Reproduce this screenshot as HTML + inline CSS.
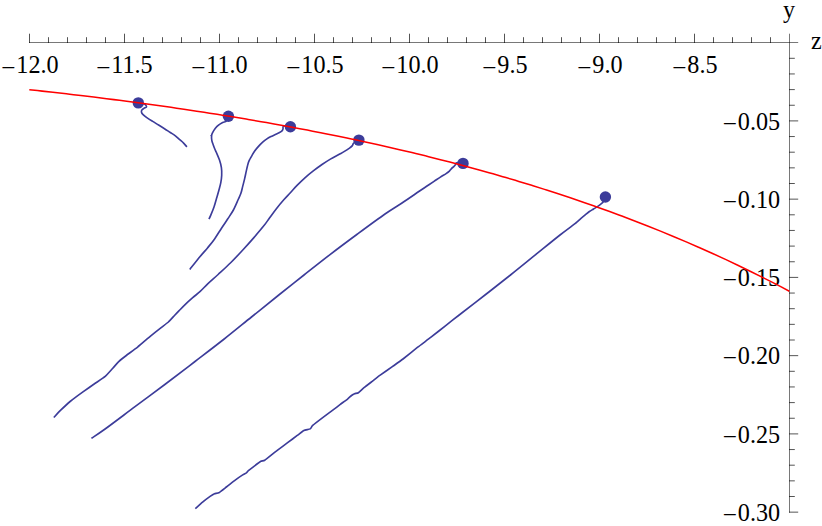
<!DOCTYPE html>
<html><head><meta charset="utf-8"><style>
html,body{margin:0;padding:0;background:#fff;overflow:hidden}
svg{display:block}
text{font-family:"Liberation Serif",serif;font-size:24.2px;fill:#000}
</style></head><body>
<svg width="822" height="526" viewBox="0 0 822 526">
<path d="M29 42.5 H798.2 M789.5 33.7 V512.65" stroke="#000" stroke-opacity="0.53" stroke-width="1" fill="none"/>
<path d="M29.50 43 V33.7 M48.50 43 V37.2 M67.50 43 V37.2 M86.50 43 V37.2 M105.50 43 V37.2 M124.50 43 V33.7 M143.50 43 V37.2 M162.50 43 V37.2 M181.50 43 V37.2 M200.50 43 V37.2 M219.50 43 V33.7 M238.50 43 V37.2 M257.50 43 V37.2 M276.50 43 V37.2 M295.50 43 V37.2 M314.50 43 V33.7 M333.50 43 V37.2 M352.50 43 V37.2 M371.50 43 V37.2 M390.50 43 V37.2 M409.50 43 V33.7 M428.50 43 V37.2 M447.50 43 V37.2 M466.50 43 V37.2 M485.50 43 V37.2 M504.50 43 V33.7 M523.50 43 V37.2 M542.50 43 V37.2 M561.50 43 V37.2 M580.50 43 V37.2 M599.50 43 V33.7 M618.50 43 V37.2 M637.50 43 V37.2 M656.50 43 V37.2 M675.50 43 V37.2 M694.50 43 V33.7 M713.50 43 V37.2 M732.50 43 V37.2 M751.50 43 V37.2 M770.50 43 V37.2 M789 58.30 H794.8 M789 73.95 H794.8 M789 89.60 H794.8 M789 105.25 H794.8 M789 120.90 H798.2 M789 136.55 H794.8 M789 152.20 H794.8 M789 167.85 H794.8 M789 183.50 H794.8 M789 199.15 H798.2 M789 214.80 H794.8 M789 230.45 H794.8 M789 246.10 H794.8 M789 261.75 H794.8 M789 277.40 H798.2 M789 293.05 H794.8 M789 308.70 H794.8 M789 324.35 H794.8 M789 340.00 H794.8 M789 355.65 H798.2 M789 371.30 H794.8 M789 386.95 H794.8 M789 402.60 H794.8 M789 418.25 H794.8 M789 433.90 H798.2 M789 449.55 H794.8 M789 465.20 H794.8 M789 480.85 H794.8 M789 496.50 H794.8 M789 512.15 H798.2" stroke="#000" stroke-opacity="0.67" stroke-width="1" fill="none"/>
<text transform="translate(1.16 75.50) scale(1.05 1.055)">−</text>
<text transform="translate(16.29 73.30) scale(1 1.055)">12.0</text>
<text transform="translate(96.16 75.50) scale(1.05 1.055)">−</text>
<text transform="translate(111.29 73.30) scale(1 1.055)">11.5</text>
<text transform="translate(191.16 75.50) scale(1.05 1.055)">−</text>
<text transform="translate(206.29 73.30) scale(1 1.055)">11.0</text>
<text transform="translate(286.16 75.50) scale(1.05 1.055)">−</text>
<text transform="translate(301.29 73.30) scale(1 1.055)">10.5</text>
<text transform="translate(381.16 75.50) scale(1.05 1.055)">−</text>
<text transform="translate(396.29 73.30) scale(1 1.055)">10.0</text>
<text transform="translate(482.21 75.50) scale(1.05 1.055)">−</text>
<text transform="translate(497.34 73.30) scale(1 1.055)">9.5</text>
<text transform="translate(577.21 75.50) scale(1.05 1.055)">−</text>
<text transform="translate(592.34 73.30) scale(1 1.055)">9.0</text>
<text transform="translate(672.21 75.50) scale(1.05 1.055)">−</text>
<text transform="translate(687.34 73.30) scale(1 1.055)">8.5</text>
<text transform="translate(722.72 131.70) scale(1.05 1.055)">−</text>
<text transform="translate(737.85 129.50) scale(1 1.055)">0.05</text>
<text transform="translate(722.72 209.95) scale(1.05 1.055)">−</text>
<text transform="translate(737.85 207.75) scale(1 1.055)">0.10</text>
<text transform="translate(722.72 288.20) scale(1.05 1.055)">−</text>
<text transform="translate(737.85 286.00) scale(1 1.055)">0.15</text>
<text transform="translate(722.72 366.45) scale(1.05 1.055)">−</text>
<text transform="translate(737.85 364.25) scale(1 1.055)">0.20</text>
<text transform="translate(722.72 444.70) scale(1.05 1.055)">−</text>
<text transform="translate(737.85 442.50) scale(1 1.055)">0.25</text>
<text transform="translate(722.72 522.95) scale(1.05 1.055)">−</text>
<text transform="translate(737.85 520.75) scale(1 1.055)">0.30</text>
<text transform="translate(789 17.5) scale(1 1.055)" text-anchor="middle">y</text>
<text transform="translate(811.1 48.8) scale(1 1.055)">z</text>
<g fill="none" stroke="#3c3c9a" stroke-width="1.65" stroke-linejoin="round" stroke-linecap="butt">
<path d="M138.30 102.80 C139.23 102.97 142.62 103.37 143.90 103.80 C145.18 104.23 145.58 104.85 146.00 105.40 C146.42 105.95 146.75 106.60 146.40 107.10 C146.05 107.60 144.67 107.90 143.90 108.40 C143.13 108.90 142.20 109.47 141.80 110.10 C141.40 110.73 141.28 111.43 141.50 112.20 C141.72 112.97 142.22 113.80 143.10 114.70 C143.98 115.60 145.20 116.48 146.80 117.60 C148.40 118.72 150.73 120.17 152.70 121.40 C154.67 122.63 156.63 123.78 158.60 125.00 C160.57 126.22 162.55 127.45 164.50 128.70 C166.45 129.95 168.48 131.32 170.30 132.50 C172.12 133.68 173.88 134.65 175.40 135.80 C176.92 136.95 178.03 138.18 179.40 139.40 C180.77 140.62 182.35 141.85 183.60 143.10 C184.85 144.35 186.35 146.27 186.90 146.90"/>
<path d="M228.40 116.00 C228.08 116.83 227.45 119.90 226.50 121.00 C225.55 122.10 224.03 121.90 222.70 122.60 C221.37 123.30 219.75 124.22 218.50 125.20 C217.25 126.18 216.18 127.25 215.20 128.50 C214.22 129.75 213.20 131.52 212.60 132.70 C212.00 133.88 211.73 134.33 211.60 135.60 C211.47 136.87 211.55 138.82 211.80 140.30 C212.05 141.78 212.62 143.10 213.10 144.50 C213.58 145.90 214.15 147.37 214.70 148.70 C215.25 150.03 215.60 150.60 216.40 152.50 C217.20 154.40 218.67 157.58 219.50 160.10 C220.33 162.62 221.03 165.10 221.40 167.60 C221.77 170.10 221.80 172.58 221.70 175.10 C221.60 177.62 221.27 180.18 220.80 182.70 C220.33 185.22 219.62 187.57 218.90 190.20 C218.18 192.83 217.32 195.70 216.50 198.50 C215.68 201.30 214.95 204.23 214.00 207.00 C213.05 209.77 211.65 213.07 210.80 215.10 C209.95 217.13 209.22 218.52 208.90 219.20"/>
<path d="M290.40 126.60 C289.28 126.48 284.93 125.53 283.70 125.90 C282.47 126.27 283.28 127.97 283.00 128.80 C282.72 129.63 282.58 130.27 282.00 130.90 C281.42 131.53 280.62 132.00 279.50 132.60 C278.38 133.20 276.70 133.85 275.30 134.50 C273.90 135.15 272.50 135.77 271.10 136.50 C269.70 137.23 268.30 137.95 266.90 138.90 C265.50 139.85 264.10 140.95 262.70 142.20 C261.30 143.45 259.83 144.93 258.50 146.40 C257.17 147.87 255.82 149.43 254.70 151.00 C253.58 152.57 252.58 154.47 251.80 155.80 C251.02 157.13 250.57 157.87 250.00 159.00 C249.43 160.13 248.98 160.75 248.40 162.60 C247.82 164.45 247.13 167.38 246.50 170.10 C245.87 172.82 245.23 176.18 244.60 178.90 C243.97 181.62 243.32 184.00 242.70 186.40 C242.08 188.80 241.65 191.12 240.90 193.30 C240.15 195.48 239.45 196.72 238.20 199.50 C236.95 202.28 235.13 206.78 233.40 210.00 C231.67 213.22 229.78 215.77 227.80 218.80 C225.82 221.83 223.70 224.85 221.50 228.20 C219.30 231.55 216.90 235.65 214.60 238.90 C212.30 242.15 210.12 244.77 207.70 247.70 C205.28 250.63 203.08 252.88 200.10 256.50 C197.12 260.12 191.52 267.25 189.80 269.40"/>
<path d="M358.90 139.90 C358.03 140.43 354.78 142.15 353.70 143.10 C352.62 144.05 353.10 144.77 352.40 145.60 C351.70 146.43 350.97 147.05 349.50 148.10 C348.03 149.15 345.38 150.83 343.60 151.90 C341.82 152.97 341.00 153.30 338.80 154.50 C336.60 155.70 333.20 157.43 330.40 159.10 C327.60 160.77 324.80 162.57 322.00 164.50 C319.20 166.43 316.40 168.52 313.60 170.70 C310.80 172.88 308.00 175.10 305.20 177.60 C302.40 180.10 299.32 183.13 296.80 185.70 C294.28 188.27 292.27 190.65 290.10 193.00 C287.93 195.35 286.12 197.15 283.80 199.80 C281.48 202.45 278.62 205.82 276.20 208.90 C273.78 211.98 271.33 215.52 269.30 218.30 C267.27 221.08 266.57 222.38 264.00 225.60 C261.43 228.82 257.28 233.70 253.90 237.60 C250.52 241.50 247.53 244.85 243.70 249.00 C239.87 253.15 235.17 258.25 230.90 262.50 C226.63 266.75 221.97 270.93 218.10 274.50 C214.23 278.07 210.68 281.08 207.70 283.90 C204.72 286.72 202.70 289.10 200.20 291.40 C197.70 293.70 195.22 295.50 192.70 297.70 C190.18 299.90 187.40 302.40 185.10 304.60 C182.80 306.80 180.67 309.08 178.90 310.90 C177.13 312.72 176.25 313.65 174.50 315.50 C173.73 316.31 169.45 321.06 168.40 322.00 C167.35 322.94 161.53 327.24 160.20 328.30 C158.87 329.36 151.86 335.02 150.20 336.40 C148.54 337.78 139.35 345.70 137.60 347.10 C135.85 348.50 127.66 354.46 126.30 355.50 C124.94 356.54 119.99 360.37 119.00 361.30 C118.01 362.23 113.81 367.09 112.80 368.20 C111.79 369.31 106.49 375.29 105.20 376.40 C103.91 377.51 96.86 382.15 95.20 383.30 C93.54 384.45 84.44 390.77 82.60 392.10 C80.76 393.43 71.71 400.17 70.10 401.50 C68.49 402.83 61.90 409.03 60.70 410.20 C59.50 411.37 54.31 416.96 53.80 417.50"/>
<path d="M463.00 163.40 C462.25 163.27 459.62 162.68 458.50 162.60 C457.38 162.52 456.82 162.53 456.30 162.90 C455.78 163.27 455.82 164.18 455.40 164.80 C454.98 165.42 454.38 166.03 453.80 166.60 C453.22 167.17 452.63 167.45 451.90 168.20 C451.17 168.95 450.37 170.20 449.40 171.10 C448.43 172.00 447.60 172.60 446.10 173.60 C444.60 174.60 442.42 175.80 440.40 177.10 C438.38 178.40 436.30 179.87 434.00 181.40 C431.70 182.93 429.07 184.65 426.60 186.30 C424.13 187.95 423.30 188.52 419.20 191.30 C415.10 194.08 407.70 199.22 402.00 203.00 C396.30 206.78 392.42 208.83 385.00 214.00 C377.58 219.17 366.67 227.23 357.50 234.00 C348.33 240.77 338.92 247.77 330.00 254.60 C321.08 261.43 312.53 268.27 304.00 275.00 C295.47 281.73 287.55 288.00 278.80 295.00 C270.05 302.00 260.60 309.67 251.50 317.00 C242.40 324.33 233.62 331.58 224.20 339.00 C214.78 346.42 204.78 354.00 195.00 361.50 C185.22 369.00 175.50 376.47 165.50 384.00 C155.50 391.53 145.07 399.20 135.00 406.70 C124.93 414.20 112.37 423.73 105.10 429.00 C97.83 434.27 93.68 436.75 91.40 438.30"/>
<path d="M605.50 196.80 C605.12 197.63 603.93 200.62 603.20 201.80 C602.47 202.98 602.00 203.13 601.10 203.90 C600.20 204.67 599.05 205.55 597.80 206.40 C596.55 207.25 595.00 208.15 593.60 209.00 C592.20 209.85 590.80 210.52 589.40 211.50 C588.00 212.48 586.60 213.75 585.20 214.90 C583.80 216.05 582.40 217.20 581.00 218.40 C579.60 219.60 577.92 221.13 576.80 222.10 C575.68 223.07 577.10 222.05 574.30 224.20 C571.50 226.35 566.55 229.83 560.00 235.00 C553.45 240.17 543.25 248.53 535.00 255.20 C526.75 261.87 518.83 268.37 510.50 275.00 C502.17 281.63 493.55 288.33 485.00 295.00 C476.45 301.67 465.80 309.87 459.20 315.00 C456.30 317.26 447.47 324.17 445.40 325.80 C443.33 327.43 433.03 335.63 431.00 337.20 C428.97 338.77 419.75 345.60 417.70 347.20 C415.65 348.80 404.83 357.59 403.00 359.00 C401.17 360.41 394.37 365.21 392.70 366.40 C391.03 367.59 381.66 374.14 380.20 375.20 C378.74 376.26 373.99 379.98 372.80 380.90 C371.61 381.82 365.06 386.83 364.00 387.70 C362.94 388.57 359.09 392.26 358.40 392.70 C357.71 393.14 355.11 393.49 354.60 393.70 C354.09 393.91 352.00 395.13 351.50 395.50 C351.00 395.87 348.62 398.15 347.80 398.80 C346.98 399.45 341.40 403.57 340.30 404.40 C339.20 405.23 334.09 409.13 332.80 410.10 C331.51 411.07 324.17 416.48 322.70 417.60 C321.23 418.72 313.62 424.57 312.70 425.40 C311.78 426.23 310.85 428.53 310.20 428.90 C309.55 429.27 304.82 429.94 303.90 430.40 C302.98 430.86 298.80 434.30 297.60 435.20 C296.40 436.10 289.07 441.60 287.60 442.70 C286.13 443.80 278.50 449.53 277.60 450.20 C276.70 450.87 276.25 451.16 275.30 451.90 C274.35 452.64 265.76 459.61 264.70 460.30 C263.64 460.99 261.68 460.86 260.90 461.30 C260.12 461.74 254.92 465.61 254.00 466.30 C253.08 466.99 248.95 470.22 248.40 470.70 C247.85 471.18 246.92 472.59 246.50 472.90 C246.08 473.21 243.53 474.37 242.70 474.90 C241.87 475.43 236.40 479.21 235.20 480.10 C234.00 480.99 227.60 486.08 226.40 487.00 C225.20 487.92 219.77 492.21 218.90 492.70 C218.03 493.19 215.15 493.43 214.50 493.70 C213.85 493.97 210.97 495.78 210.10 496.40 C209.23 497.02 203.69 501.21 202.60 502.10 C201.51 502.99 195.84 508.12 195.30 508.60"/>
<path d="M212 135.6 H210.3" stroke-width="0.8"/>
</g>
<g fill="#3c3c9a">
<circle cx="138.3" cy="102.9" r="5.7"/>
<circle cx="228.4" cy="116.2" r="5.7"/>
<circle cx="290.4" cy="126.8" r="5.7"/>
<circle cx="358.9" cy="140.1" r="5.7"/>
<circle cx="463.0" cy="163.4" r="5.7"/>
<circle cx="605.4" cy="197.0" r="5.7"/>
</g>
<path d="M29.30 89.72 C31.45 89.95 37.89 90.64 42.18 91.11 C46.48 91.59 50.77 92.06 55.06 92.55 C59.36 93.03 63.65 93.52 67.94 94.02 C72.24 94.51 76.53 95.02 80.83 95.53 C85.12 96.04 89.41 96.56 93.71 97.08 C98.00 97.61 102.29 98.14 106.59 98.68 C110.88 99.22 115.18 99.76 119.47 100.32 C123.76 100.87 128.06 101.44 132.35 102.01 C136.64 102.57 140.94 103.15 145.23 103.74 C149.53 104.32 153.82 104.92 158.11 105.52 C162.41 106.12 166.70 106.73 170.99 107.35 C175.29 107.97 179.58 108.59 183.88 109.23 C188.17 109.86 192.46 110.51 196.76 111.16 C201.05 111.81 205.35 112.48 209.64 113.15 C213.93 113.82 218.23 114.50 222.52 115.19 C226.81 115.88 231.11 116.58 235.40 117.28 C239.70 117.99 243.99 118.71 248.28 119.44 C252.58 120.17 256.87 120.91 261.16 121.65 C265.46 122.40 269.75 123.16 274.05 123.93 C278.34 124.70 282.63 125.48 286.93 126.27 C291.22 127.06 295.51 127.86 299.81 128.67 C304.10 129.48 308.40 130.31 312.69 131.14 C316.98 131.98 321.28 132.82 325.57 133.68 C329.86 134.54 334.16 135.41 338.45 136.29 C342.75 137.17 347.04 138.06 351.33 138.97 C355.63 139.87 359.92 140.79 364.22 141.72 C368.51 142.65 372.80 143.59 377.10 144.55 C381.39 145.51 385.68 146.48 389.98 147.46 C394.27 148.44 398.57 149.44 402.86 150.45 C407.15 151.46 411.45 152.48 415.74 153.52 C420.03 154.55 424.33 155.60 428.62 156.67 C432.92 157.74 437.21 158.83 441.50 159.92 C445.80 161.02 450.09 162.14 454.38 163.27 C458.68 164.39 462.97 165.54 467.27 166.70 C471.56 167.86 475.85 169.03 480.15 170.23 C484.44 171.42 488.74 172.63 493.03 173.85 C497.32 175.08 501.62 176.32 505.91 177.58 C510.20 178.83 514.50 180.11 518.79 181.40 C523.09 182.70 527.38 184.01 531.67 185.34 C535.97 186.66 540.26 188.01 544.55 189.38 C548.85 190.74 553.14 192.12 557.44 193.53 C561.73 194.93 566.02 196.35 570.32 197.79 C574.61 199.23 578.90 200.70 583.20 202.18 C587.49 203.66 591.79 205.16 596.08 206.68 C600.37 208.20 604.67 209.74 608.96 211.31 C613.25 212.87 617.55 214.46 621.84 216.06 C626.14 217.67 630.43 219.30 634.72 220.95 C639.02 222.60 643.31 224.27 647.61 225.97 C651.90 227.66 656.19 229.38 660.49 231.13 C664.78 232.87 669.07 234.63 673.37 236.43 C677.66 238.22 681.96 240.03 686.25 241.87 C690.54 243.71 694.84 245.58 699.13 247.47 C703.42 249.36 707.72 251.27 712.01 253.22 C716.31 255.16 720.60 257.13 724.89 259.12 C729.19 261.12 733.48 263.14 737.77 265.19 C742.07 267.24 746.36 269.32 750.66 271.43 C754.95 273.54 759.24 275.67 763.54 277.84 C767.83 280.00 772.12 282.20 776.42 284.42 C780.71 286.65 787.15 290.06 789.30 291.19" fill="none" stroke="#ff0000" stroke-width="1.55"/>
</svg></body></html>
